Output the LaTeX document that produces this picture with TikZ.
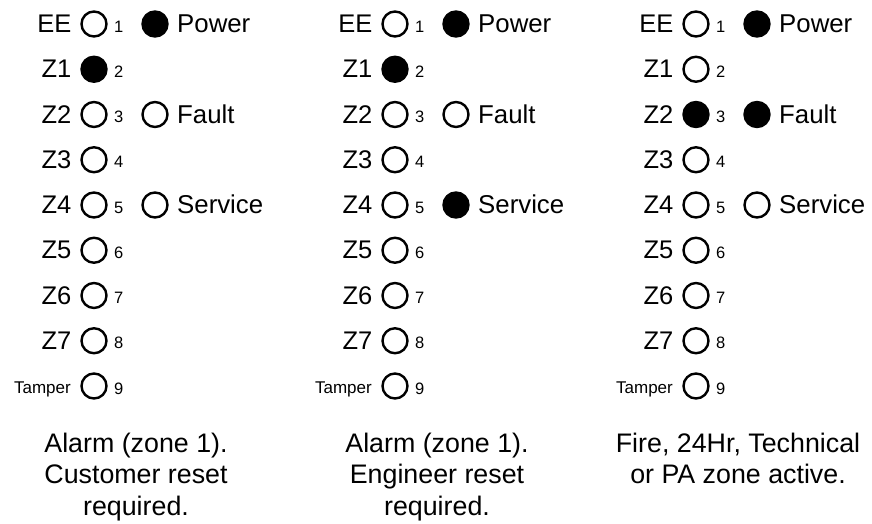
\documentclass[tikz,border=0pt]{standalone}
\usepackage{fontspec}
\setmainfont{Liberation Sans}
\begin{document}
\begin{tikzpicture}[x=1pt,y=-1pt,
  led/.style={circle,draw=black,line width=2.4pt,minimum size=25pt,inner sep=0pt},
  lit/.style={led,fill=black},
  zlbl/.style={anchor=base east,inner sep=0pt,font=\fontsize{25.5}{30}\selectfont},
  tlbl/.style={anchor=base east,inner sep=0pt,font=\fontsize{17}{20}\selectfont},
  num/.style={anchor=base west,inner sep=0pt,font=\fontsize{16.5}{19}\selectfont},
  slbl/.style={anchor=base west,inner sep=0pt,font=\fontsize{25.8}{30}\selectfont},
  captxt/.style={anchor=base,inner sep=0pt,align=center,font=\fontsize{26.8}{31.5}\selectfont}]
\useasboundingbox (0,0) rectangle (872,523);
% panel definitions: offset / lit zone LED / Fault lit / Service lit / caption last baseline / caption
\foreach \p/\dx/\zon/\fon/\son/\cy/\cp in {
  a/0/2/0/0/515/{Alarm (zone 1).\\Customer reset\\required.},
  b/301/2/0/1/515/{Alarm (zone 1).\\Engineer reset\\required.},
  c/602/3/1/0/483.5/{Fire, 24Hr, Technical\\or PA zone active.}}{
  \foreach \i/\t in {1/EE,2/Z1,3/Z2,4/Z3,5/Z4,6/Z5,7/Z6,8/Z7,9/Tamper}{
    \pgfmathsetmacro{\yy}{24+45.25*(\i-1)}
    \ifnum\i=\zon
      \node[lit] (\p led\i) at (94+\dx,\yy) {};
    \else
      \node[led] (\p led\i) at (94+\dx,\yy) {};
    \fi
    \ifnum\i=9
      \node[tlbl] (\p lab\i) at (71+\dx,\yy+7) {\t};
    \else
      \node[zlbl] (\p lab\i) at (71.5+\dx,\yy+8.5) {\t};
    \fi
    \node[num] (\p num\i) at (114+\dx,\yy+8) {\i};
  }
  \node[lit] (\p pow) at (155+\dx,24) {};
  \node[slbl] (\p powl) at (177+\dx,32.5) {Power};
  \ifnum\fon=1 \node[lit] (\p flt) at (155+\dx,114.5) {};
  \else \node[led] (\p flt) at (155+\dx,114.5) {}; \fi
  \node[slbl] (\p fltl) at (177+\dx,123) {Fault};
  \ifnum\son=1 \node[lit] (\p svc) at (155+\dx,205) {};
  \else \node[led] (\p svc) at (155+\dx,205) {}; \fi
  \node[slbl] (\p svcl) at (177+\dx,213.5) {Service};
  \node[captxt] (\p cap) at (136+\dx,\cy) {\cp};
}
\end{tikzpicture}
\end{document}
